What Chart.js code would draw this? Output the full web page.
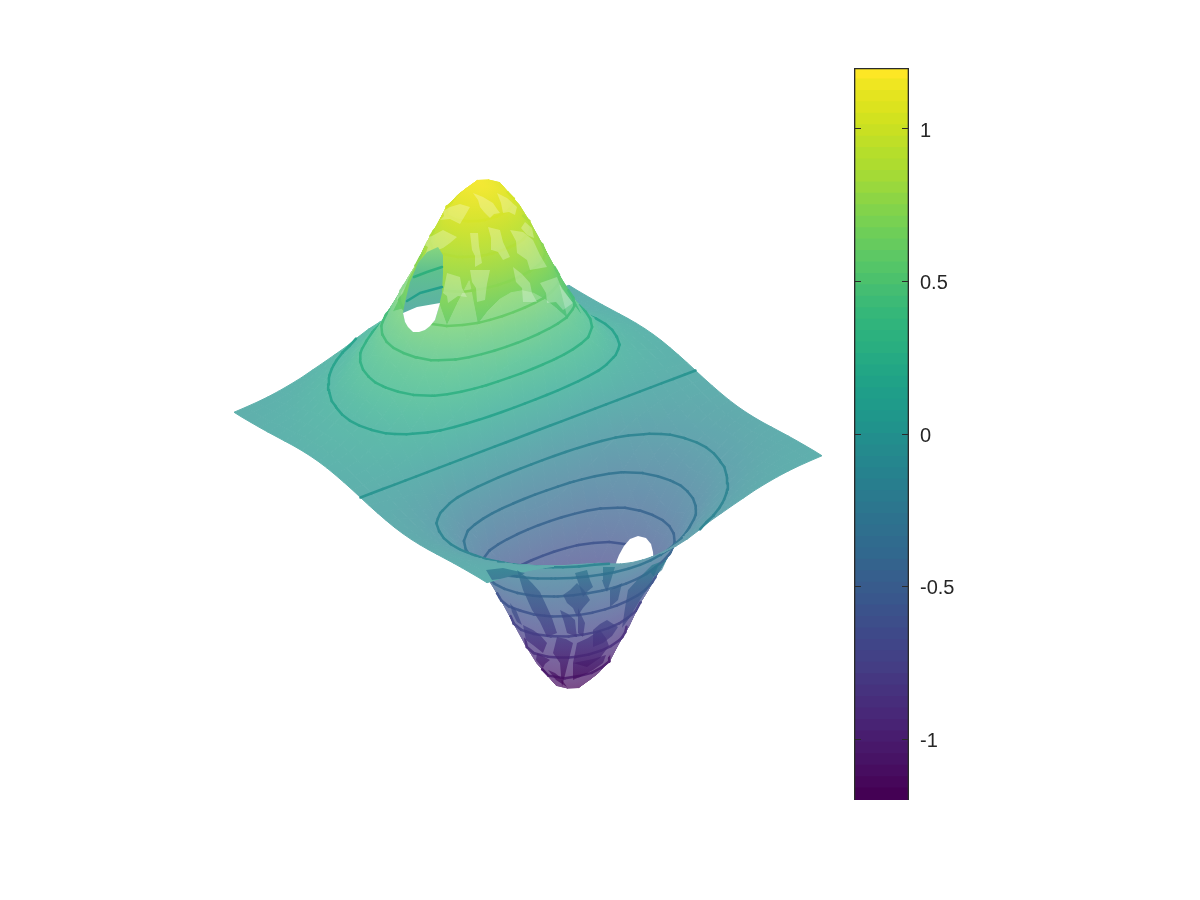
<!DOCTYPE html>
<html>
<head>
<meta charset="utf-8">
<style>
  html, body { margin: 0; background: #fff; }
  canvas { position: absolute; top: 0; }
  #surface { left: 0; }
  #colorbar { left: 800px; }
</style>
<script src="https://cdn.jsdelivr.net/npm/chart.js@4/dist/chart.umd.min.js"></script>
</head>
<body>
<canvas id="surface" width="1200" height="900"></canvas>
<canvas id="colorbar" width="400" height="900"></canvas>
<script>
// surface heights; each row runs x = -2 .. 2, the rows are named by |y|
var xValues = [-2,-1.867,-1.733,-1.6,-1.467,-1.333,-1.2,-1.067,-.933,-.8,-.667,-.533,-.4,-.267,-.133,0,.133,.267,.4,.533,.667,.8,.933,1.067,1.2,1.333,1.467,1.6,1.733,1.867,2];
var yValues = xValues.slice();
var row0 = [.2,.25,.32,.404,.526,.682,.836,1,1.11,1.175,1.165,1.09,.935,.695,.367,0,-.367,-.695,-.935,-1.09,-1.165,-1.175,-1.11,-1,-.836,-.682,-.526,-.404,-.32,-.25,-.2];
var row1 = [.198,.246,.315,.398,.516,.674,.821,.982,1.09,1.155,1.145,1.07,.918,.683,.36,0,-.36,-.683,-.918,-1.07,-1.145,-1.155,-1.09,-.982,-.821,-.674,-.516,-.398,-.315,-.246,-.198];
var row2 = [.19,.238,.302,.384,.493,.644,.778,.931,1.049,1.118,1.097,1.015,.871,.647,.341,0,-.341,-.647,-.871,-1.015,-1.097,-1.118,-1.049,-.931,-.778,-.644,-.493,-.384,-.302,-.238,-.19];
var row3 = [.175,.222,.28,.358,.456,.596,.723,.853,.96,1.022,1.005,.928,.797,.592,.312,0,-.312,-.592,-.797,-.928,-1.005,-1.022,-.96,-.853,-.723,-.596,-.456,-.358,-.28,-.222,-.175];
var row4 = [.152,.198,.251,.326,.409,.535,.65,.752,.847,.902,.887,.82,.704,.523,.276,0,-.276,-.523,-.704,-.82,-.887,-.902,-.847,-.752,-.65,-.535,-.409,-.326,-.251,-.198,-.152];
var row5 = [.126,.173,.221,.289,.36,.466,.567,.65,.722,.769,.755,.698,.6,.446,.235,0,-.235,-.446,-.6,-.698,-.755,-.769,-.722,-.65,-.567,-.466,-.36,-.289,-.221,-.173,-.126];
var row6 = [.107,.151,.193,.248,.311,.393,.479,.55,.593,.632,.622,.574,.493,.366,.193,0,-.193,-.366,-.493,-.574,-.622,-.632,-.593,-.55,-.479,-.393,-.311,-.248,-.193,-.151,-.107];
var row7 = [.088,.127,.166,.207,.261,.328,.393,.451,.489,.503,.493,.457,.392,.291,.154,0,-.154,-.291,-.392,-.457,-.493,-.503,-.489,-.451,-.393,-.328,-.261,-.207,-.166,-.127,-.088];
var row8 = [.07,.101,.138,.173,.213,.268,.314,.358,.389,.401,.383,.35,.3,.223,.118,0,-.118,-.223,-.3,-.35,-.383,-.401,-.389,-.358,-.314,-.268,-.213,-.173,-.138,-.101,-.07];
var row9 = [.052,.079,.109,.141,.17,.212,.25,.278,.3,.309,.296,.267,.225,.165,.087,0,-.087,-.165,-.225,-.267,-.296,-.309,-.3,-.278,-.25,-.212,-.17,-.141,-.109,-.079,-.052];
var row10 = [.038,.058,.082,.11,.136,.158,.19,.214,.226,.23,.22,.2,.172,.124,.065,0,-.065,-.124,-.172,-.2,-.22,-.23,-.226,-.214,-.19,-.158,-.136,-.11,-.082,-.058,-.038];
var row11 = [.026,.04,.059,.081,.104,.123,.139,.154,.166,.17,.164,.149,.125,.09,.047,0,-.047,-.09,-.125,-.149,-.164,-.17,-.166,-.154,-.139,-.123,-.104,-.081,-.059,-.04,-.026];
var row12 = [.017,.027,.04,.057,.074,.092,.106,.115,.121,.124,.12,.109,.09,.064,.033,0,-.033,-.064,-.09,-.109,-.12,-.124,-.121,-.115,-.106,-.092,-.074,-.057,-.04,-.027,-.017];
var row13 = [.011,.018,.026,.037,.05,.063,.076,.085,.089,.089,.085,.077,.064,.046,.024,0,-.024,-.046,-.064,-.077,-.085,-.089,-.089,-.085,-.076,-.063,-.05,-.037,-.026,-.018,-.011];
var row14 = [.007,.011,.016,.023,.032,.041,.051,.058,.063,.065,.062,.055,.045,.032,.016,0,-.016,-.032,-.045,-.055,-.062,-.065,-.063,-.058,-.051,-.041,-.032,-.023,-.016,-.011,-.007];
var row15 = [.004,.006,.01,.014,.019,.025,.031,.037,.041,.043,.042,.038,.031,.022,.012,0,-.012,-.022,-.031,-.038,-.042,-.043,-.041,-.037,-.031,-.025,-.019,-.014,-.01,-.006,-.004];
var zRows = [row15,row14,row13,row12,row11,row10,row9,row8,row7,row6,row5,row4,row3,row2,row1,row0,row1,row2,row3,row4,row5,row6,row7,row8,row9,row10,row11,row12,row13,row14,row15];
var contourLevels = [-1.05,-.9,-.75,-.6,-.45,-.3,-.15,0,.15,.3,.45,.6,.75,.9,1.05];
var colorLimits = [-1.2, 1.2];
var colorbarTicks = [-1,-.5,0,.5,1];
var colormap = ['#440154','#46075a','#470d60','#471365','#48186a','#481d6f','#482374','#482878','#472d7b','#46327e','#453781','#443d84','#424186','#404588','#3e4989','#3d4e8a','#3b528b','#39578c','#385b8c','#365f8d','#34638d','#31688e','#306b8e','#2f6f8e','#2d728e','#2c768e','#2a7a8e','#287e8e','#26828e','#25868e','#248a8d','#228e8d','#20938c','#1f978b','#1f9b8a','#1f9e89','#20a287','#22a685','#25aa83','#29ae80','#2cb17e','#30b47c','#35b779','#3cba76','#44bd72','#4cc16c','#54c568','#5dc864','#66cb5e','#6ece58','#78d152','#82d34b','#8dd544','#99d83d','#a4da36','#aedc2f','#b5de2b','#bfdf27','#c9e022','#d2e21f','#dce31e','#e4e41f','#efe621','#fde725'];

// pale and dark flecks, and the gaps in the mesh, in plot-plane units
var hillLightPatches = [
  [[473,193],[483,197],[493,203],[497,209],[500,213],[494,214],[490,218],[484,212],[480,207],[478,200]],
  [[450,207],[460,204],[470,207],[466,214],[460,224],[450,219],[440,220],[444,216],[443,211]],
  [[497,193],[507,198],[517,207],[515,215],[509,212],[503,213],[501,203]],
  [[470,233],[478,233],[479,246],[482,263],[475,267],[475,256],[472,250]],
  [[488,227],[500,230],[503,242],[510,257],[503,260],[498,252],[492,250],[491,238]],
  [[510,230],[523,232],[533,240],[540,255],[547,267],[530,270],[527,260],[517,253],[516,241]],
  [[447,273],[460,277],[462,288],[467,297],[458,296],[448,303],[447,296],[443,293]],
  [[470,270],[490,270],[487,284],[485,300],[477,302],[476,288],[472,282]],
  [[513,267],[522,274],[530,283],[532,293],[537,302],[523,302],[522,288],[516,282]],
  [[540,283],[557,277],[562,289],[573,303],[563,310],[556,302],[547,303],[546,293]],
  [[417,240],[432,236],[443,230],[457,237],[450,243],[443,248],[425,255],[428,247]],
  [[393,280],[403,270],[410,257],[415,267],[409,278],[403,293],[397,300],[398,289]],
  [[444,188],[456,183],[460,190],[452,196],[447,202],[442,198]],
  [[525,222],[532,228],[534,238],[527,235],[521,228]]
];
var pitDarkPatches = [
  [[517,570],[525,576],[532,583],[540,592],[547,607],[552,618],[557,633],[547,637],[540,622],[532,610],[523,590]],
  [[486,570],[503,568],[525,573],[517,578],[508,577],[500,579],[492,580]],
  [[563,595],[570,590],[577,583],[584,590],[590,600],[583,608],[577,617],[573,608],[567,603]],
  [[575,573],[587,570],[590,580],[593,587],[588,591],[583,597],[579,585]],
  [[603,567],[615,567],[611,580],[607,592],[604,586],[602,580]],
  [[560,610],[568,614],[575,620],[576,630],[577,637],[567,633],[564,622]],
  [[578,608],[585,623],[583,637],[578,633]],
  [[523,625],[533,630],[540,635],[547,643],[543,653],[533,645],[526,640]],
  [[593,630],[600,624],[607,620],[618,627],[612,636],[603,643],[593,647]],
  [[557,637],[566,639],[573,643],[570,655],[567,667],[562,687],[560,663],[553,653]],
  [[577,643],[588,638],[600,630],[606,638],[609,646],[600,658],[587,667],[573,663]],
  [[537,653],[550,660],[545,664],[542,670],[550,677],[542,667],[536,660]],
  [[573,663],[593,659],[606,655],[603,663],[593,670],[584,675],[573,680]],
  [[548,670],[555,673],[560,677],[567,687],[556,680]],
  [[628,590],[640,577],[652,565],[660,562],[650,585],[640,600],[628,620],[622,628],[625,608]],
  [[650,572],[662,563],[668,557],[662,570],[654,577]],
  [[510,603],[516,610],[522,625],[517,622],[512,612]],
  [[610,590],[622,583],[618,600],[610,607]]
];
var pitFleckStops = [[565,-.2],[585,-.45],[628,-.75],[648,-.9],[690,-1.2]];
var hillWindow = [[403,313],[405,302],[410,282],[418,263],[427,252],[438,247],[443,255],[443,273],[442,293],[438,310],[435,320],[425,330],[413,332],[405,322]];
var hillWindowHole = [[403,313],[417,307],[440,303],[438,310],[435,320],[430,326],[425,330],[419,332],[413,332],[408,327],[405,322]];
var hillWindowContours = [
  [[414,277],[427,272],[442,267]],
  [[407,301],[420,293],[442,287]]
];
var pitHole = [[614,570],[617,560],[619,555],[624,546],[630,539],[638,536],[646,538],[651,544],[653,552],[654,566]];

// orthographic view of the surface onto the plot plane
function project(x, y, z) {
  return {x: 528 + 63.25 * x + 83.75 * y, y: 434 + 42.25 * x - 31.75 * y - 187 * z};
}

function hexToRgb(hex) {
  return [parseInt(hex.substr(1, 2), 16), parseInt(hex.substr(3, 2), 16), parseInt(hex.substr(5, 2), 16)];
}

// colour for a height, blended between map entries and washed toward white by the face opacity
function colorAt(z, opacity) {
  var t = (z - colorLimits[0]) / (colorLimits[1] - colorLimits[0]) * (colormap.length - 1);
  t = Math.max(0, Math.min(colormap.length - 1, t));
  var lo = Math.floor(t), hi = Math.min(colormap.length - 1, lo + 1), f = t - lo;
  var a = hexToRgb(colormap[lo]), b = hexToRgb(colormap[hi]);
  return 'rgb(' + a.map(function(v, n) {
    return Math.round((v + (b[n] - v) * f) * opacity + 255 * (1 - opacity));
  }).join(',') + ')';
}

function scalesReady(context) {
  var area = context.chart.chartArea;
  return !!(area && context.chart.scales.x && isFinite(context.chart.scales.y.getPixelForValue(100)));
}

// linear gradient across one mesh cell, fitted to its four corner heights
function cellGradient(context, pts, zs, opacity) {
  var zLo = Math.min.apply(null, zs), zHi = Math.max.apply(null, zs);
  if(zHi - zLo < 1e-6) return colorAt(zLo, opacity);
  var sx = context.chart.scales.x, sy = context.chart.scales.y;
  var px = pts.map(function(p) { return sx.getPixelForValue(p.x); });
  var py = pts.map(function(p) { return sy.getPixelForValue(p.y); });
  var mx = 0, my = 0, mz = 0, i;
  for(i = 0; i < 4; i++) { mx += px[i] / 4; my += py[i] / 4; mz += zs[i] / 4; }
  var sxx = 0, sxy = 0, syy = 0, sxz = 0, syz = 0;
  for(i = 0; i < 4; i++) {
    var dx = px[i] - mx, dy = py[i] - my, dz = zs[i] - mz;
    sxx += dx * dx; sxy += dx * dy; syy += dy * dy; sxz += dx * dz; syz += dy * dz;
  }
  var det = sxx * syy - sxy * sxy;
  if(Math.abs(det) < 1e-6) return colorAt(mz, opacity);
  var gx = (sxz * syy - syz * sxy) / det, gy = (syz * sxx - sxz * sxy) / det;
  var len = gx * gx + gy * gy;
  if(len < 1e-12) return colorAt(mz, opacity);
  var grad = context.chart.ctx.createLinearGradient(
    mx + gx * (zLo - mz) / len, my + gy * (zLo - mz) / len,
    mx + gx * (zHi - mz) / len, my + gy * (zHi - mz) / len
  );
  grad.addColorStop(0, colorAt(zLo, opacity));
  grad.addColorStop(0.5, colorAt((zLo + zHi) / 2, opacity));
  grad.addColorStop(1, colorAt(zHi, opacity));
  return grad;
}

function polygonDataset(points, fillColor) {
  var closed = points.concat([points[0]]).map(function(p) { return {x: p[0], y: p[1]}; });
  return {data: closed, showLine: true, fill: 'shape', backgroundColor: fillColor, borderWidth: 0, pointRadius: 0};
}

function segmentDataset(points, color, width) {
  return {data: points, showLine: true, fill: false, borderColor: color, borderWidth: width, borderCapStyle: 'round', borderJoinStyle: 'round', pointRadius: 0};
}

// colour wash for the pit flecks: height follows the screen row there
function pitFleckColor(context) {
  if(!scalesReady(context)) return 'rgba(60,60,130,0.7)';
  var sy = context.chart.scales.y;
  var first = pitFleckStops[0][0], last = pitFleckStops[pitFleckStops.length - 1][0];
  var grad = context.chart.ctx.createLinearGradient(0, sy.getPixelForValue(first), 0, sy.getPixelForValue(last));
  pitFleckStops.forEach(function(s) {
    grad.addColorStop((s[0] - first) / (last - first), colorAt(s[1], 1).replace('rgb', 'rgba').replace(')', ',0.7)'));
  });
  return grad;
}

function windowColor(context) {
  if(!scalesReady(context)) return '#5fc08f';
  var sy = context.chart.scales.y;
  var grad = context.chart.ctx.createLinearGradient(0, sy.getPixelForValue(247), 0, sy.getPixelForValue(310));
  grad.addColorStop(0, '#86d57f');
  grad.addColorStop(0.4, '#5fc08f');
  grad.addColorStop(1, '#5cb0a6');
  return grad;
}

function pushCell(layers, i, j) {
  var corners = [[i, j], [i + 1, j], [i + 1, j + 1], [i, j + 1]];
  var zs = corners.map(function(c) { return zRows[c[1]][c[0]]; });
  var pts = corners.map(function(c) { return project(xValues[c[0]], yValues[c[1]], zRows[c[1]][c[0]]); });
  var ground = corners.map(function(c) { return project(xValues[c[0]], yValues[c[1]], 0).y; });
  var key = (ground[0] + ground[1] + ground[2] + ground[3]) / 4;
  var midY = (pts[0].y + pts[1].y + pts[2].y + pts[3].y) / 4;
  var midZ = (zs[0] + zs[1] + zs[2] + zs[3]) / 4;
  var opacity = (midY < 302 && midZ > 0.3) ? 0.92 : 0.72;
  var fillFn = function(context) {
    if(!scalesReady(context)) return colorAt(midZ, opacity);
    if(!fillFn.cached) fillFn.cached = cellGradient(context, pts, zs, opacity);
    return fillFn.cached;
  };
  layers.push({key: key, ds: {
    data: pts.concat([pts[0]]), showLine: true, fill: 'shape',
    backgroundColor: fillFn, borderColor: fillFn, borderWidth: 1, pointRadius: 0
  }});

  // contour pieces crossing this cell, drawn just after its neighbours
  contourLevels.forEach(function(level) {
    var cross = [];
    for(var e = 0; e < 4; e++) {
      var a = e, b = (e + 1) % 4;
      if((zs[a] >= level) !== (zs[b] >= level)) {
        var t = (level - zs[a]) / (zs[b] - zs[a]);
        var gx = xValues[corners[a][0]] + t * (xValues[corners[b][0]] - xValues[corners[a][0]]);
        var gy = yValues[corners[a][1]] + t * (yValues[corners[b][1]] - yValues[corners[a][1]]);
        cross.push(project(gx, gy, level));
      }
    }
    for(var n = 0; n + 1 < cross.length; n += 2) {
      layers.push({key: key + 12, ds: segmentDataset([cross[n], cross[n + 1]], colorAt(level, 0.95), 2.5)});
    }
  });
}

var layers = [];
for(var j = 0; j < zRows.length - 1; j++) {
  for(var i = 0; i < xValues.length - 1; i++) pushCell(layers, i, j);
}
// the far gap sits behind the near wall of the pit
layers.push({key: 470, ds: polygonDataset(pitHole, '#ffffff')});
layers.sort(function(a, b) { return a.key - b.key; });
var surfaceSets = layers.map(function(l) { return l.ds; });

// overlays above the whole mesh
hillLightPatches.forEach(function(p) { surfaceSets.push(polygonDataset(p, 'rgba(255,255,255,0.27)')); });
pitDarkPatches.forEach(function(p) { surfaceSets.push(polygonDataset(p, pitFleckColor)); });
surfaceSets.push(polygonDataset(hillWindow, windowColor));
surfaceSets.push(polygonDataset(hillWindowHole, '#ffffff'));
hillWindowContours.forEach(function(c, n) {
  surfaceSets.push(segmentDataset(c.map(function(p) { return {x: p[0], y: p[1]}; }), n ? '#24a08a' : '#2fb07c', 2.5));
});

new Chart(document.getElementById('surface'), {
  type: 'scatter',
  data: {datasets: surfaceSets.reverse()},
  options: {
    responsive: false,
    animation: false,
    events: [],
    layout: {padding: 0},
    plugins: {legend: {display: false}, tooltip: {enabled: false}},
    scales: {
      x: {type: 'linear', min: 0, max: 1200, display: false},
      y: {type: 'linear', min: 0, max: 900, reverse: true, display: false}
    }
  }
});

// colour bar: one floating bar per colormap entry
var bandSets = colormap.map(function(color, n) {
  var span = colorLimits[1] - colorLimits[0];
  return {
    data: [[colorLimits[0] + span * n / colormap.length, colorLimits[0] + span * (n + 1) / colormap.length + 0.002]],
    backgroundColor: color,
    borderWidth: 0,
    barPercentage: 1,
    categoryPercentage: 1,
    grouped: false,
    yAxisID: 'y'
  };
});
bandSets.unshift({
  data: [[colorLimits[0], colorLimits[1]]],
  backgroundColor: 'rgba(0,0,0,0)',
  borderColor: '#2b2b2b',
  borderWidth: 1,
  barPercentage: 1,
  categoryPercentage: 1,
  grouped: false,
  yAxisID: 'y'
});

function setColorbarTicks(axis) {
  axis.ticks = colorbarTicks.map(function(v) { return {value: v}; });
}

new Chart(document.getElementById('colorbar'), {
  type: 'bar',
  data: {labels: [''], datasets: bandSets},
  options: {
    responsive: false,
    animation: false,
    events: [],
    layout: {padding: {left: 54, right: 0, top: 68, bottom: 100}},
    plugins: {legend: {display: false}, tooltip: {enabled: false}},
    scales: {
      x: {display: false},
      y: {
        position: 'right', min: colorLimits[0], max: colorLimits[1],
        afterBuildTicks: setColorbarTicks,
        afterFit: function(axis) { axis.width = 291; },
        border: {display: false},
        grid: {drawOnChartArea: false, tickLength: -7, color: '#2b2b2b', z: 1},
        ticks: {padding: 18, color: '#262626', font: {family: 'Liberation Sans', size: 20}, autoSkip: false, maxRotation: 0, labelOffset: 2,
          callback: function(v) { return String(v); }}
      },
      yLeft: {
        position: 'left', min: colorLimits[0], max: colorLimits[1],
        afterBuildTicks: setColorbarTicks,
        afterFit: function(axis) { axis.width = 0; },
        border: {display: false},
        grid: {drawOnChartArea: false, tickLength: -7, color: '#2b2b2b', z: 1},
        ticks: {display: false}
      }
    }
  }
});
</script>
</body>
</html>
